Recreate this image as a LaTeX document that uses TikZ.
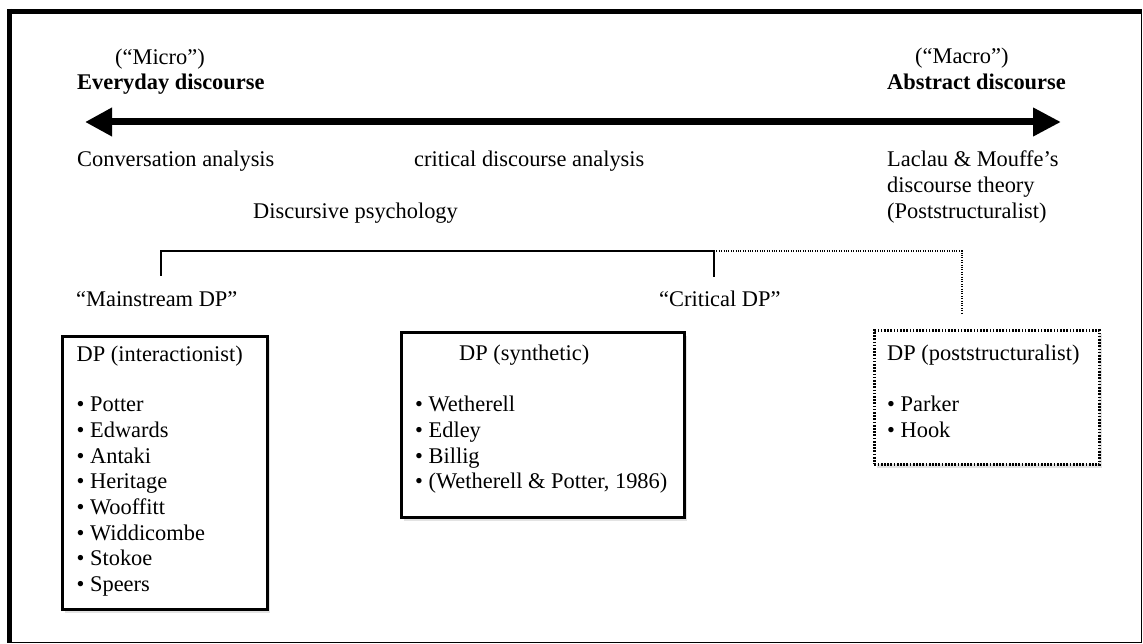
\documentclass[tikz,border=0pt]{standalone}
\usepackage{fontspec}
\setmainfont{Liberation Serif}
\usetikzlibrary{arrows.meta,shadows}
\begin{document}
\begin{tikzpicture}[x=1pt,y=-1pt,
  txt/.style={anchor=base west,inner sep=0pt,font=\fontsize{22.4}{25.7}\selectfont},
  bld/.style={txt,font=\fontsize{22.4}{25.7}\selectfont\bfseries},
  boxs/.style={draw,line width=2.8pt,anchor=north west,inner sep=0pt,fill=white,
    drop shadow={shadow xshift=3pt,shadow yshift=-4pt,opacity=0.22}},
  dotbox/.style={boxs,dash pattern=on 1.7pt off 1.5pt},
  brk/.style={line width=1.6pt},
  dotbrk/.style={line width=1.3pt,dash pattern=on 1pt off 1.4pt},
  bigarrow/.style={line width=7pt,{Triangle[length=27pt,width=27pt]}-{Triangle[length=28pt,width=27pt]}}
]
\useasboundingbox (0,0) rectangle (1143,644);
% frame
\draw[line width=1.5pt] (9.5,11.5) rectangle (1141.5,642.3);
\draw[line width=5pt] (7,11.5) -- (1142,11.5);
\draw[line width=5pt] (9.5,9) -- (9.5,643);

% top labels
\node[txt] (micro) at (115,65) {(“Micro”)};
\node[bld] (everyday) at (77,90) {Everyday discourse};
\node[txt] (macro) at (915,64) {(“Macro”)};
\node[bld] (abstract) at (887,90) {Abstract discourse};

% main arrow
\coordinate (aL) at (85,122);
\coordinate (aR) at (1061,122);
\draw[bigarrow] (aL) -- (aR);

% approaches
\node[txt] (ca) at (77,167) {Conversation analysis};
\node[txt] (cda) at (414,167) {critical discourse analysis};
\node[txt] (lm1) at (887,167) {Laclau \& Mouffe’s};
\node[txt] (lm2) at (887,192.7) {discourse theory};
\node[txt] (lm3) at (887,218.4) {(Poststructuralist)};
\node[txt] (dpsy) at (253,218.4) {Discursive psychology};

% bracket
\coordinate (bl) at (161,276);
\coordinate (blt) at (161,251);
\coordinate (bmt) at (714,251);
\coordinate (bm) at (714,277);
\coordinate (brt) at (962,251);
\coordinate (br) at (962,313);
\draw[brk] (bl) -- (blt) -- (bmt) -- (bm);
\draw[dotbrk] (bmt) -- (brt) -- (br);

\node[txt] (mainstream) at (76,306.5) {“Mainstream DP”};
\node[txt] (critical) at (659,306.5) {“Critical DP”};

% boxes
\node[boxs,minimum width=205pt,minimum height=273pt] (box1) at (61,335) {};
\node[boxs,minimum width=283pt,minimum height=185pt] (box2) at (400,331) {};
\node[dotbox,minimum width=225pt,minimum height=134pt] (box3) at (873,329) {};

% box 1 text
\node[txt] (h1) at (76.5,361) {DP (interactionist)};
\foreach \t [count=\i] in {Potter,Edwards,Antaki,Heritage,Wooffitt,Widdicombe,Stokoe,Speers}
  \node[txt] (ia\i) at (76.5,{411.7+25.7*(\i-1)}) {• \t};

% box 2 text
\node[txt] (h2) at (459,360) {DP (synthetic)};
\foreach \t [count=\i] in {Wetherell,Edley,Billig,{(Wetherell \& Potter, 1986)}}
  \node[txt] (sy\i) at (415,{411.7+25.7*(\i-1)}) {• \t};

% box 3 text
\node[txt] (h3) at (887,360) {DP (poststructuralist)};
\foreach \t [count=\i] in {Parker,Hook}
  \node[txt] (ps\i) at (887,{411.7+25.7*(\i-1)}) {• \t};
\end{tikzpicture}
\end{document}
